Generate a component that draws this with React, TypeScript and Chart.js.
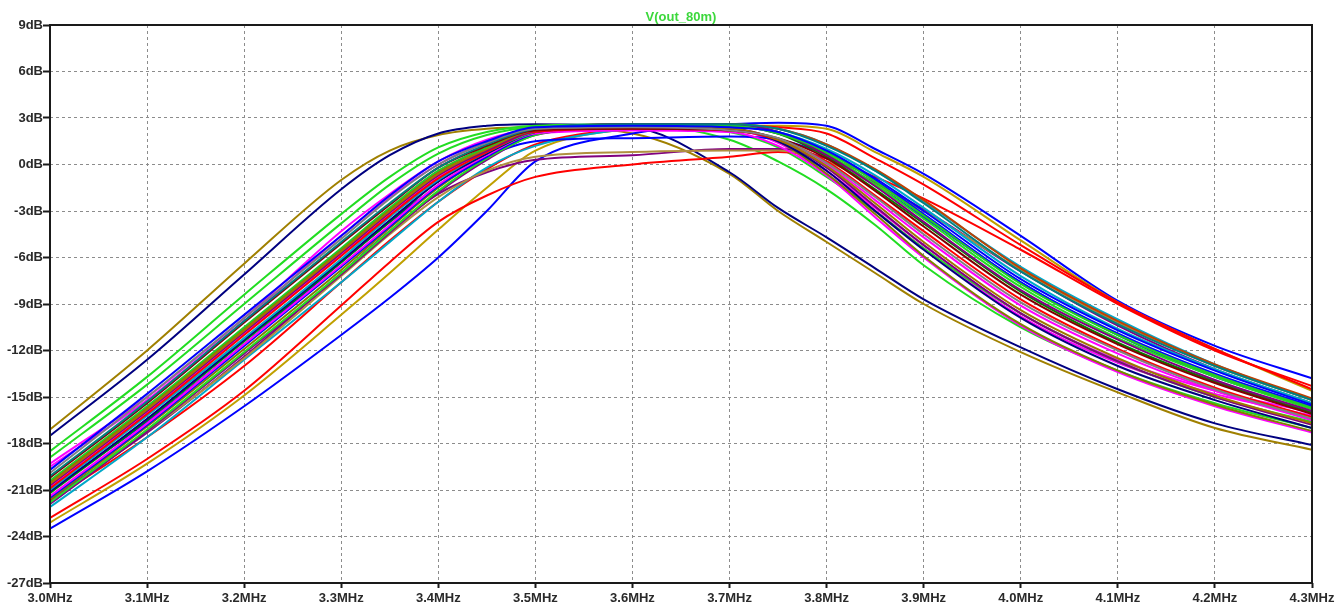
import React, { useEffect, useRef } from 'react';
import { Chart, registerables } from 'chart.js';

Chart.register(...registerables);

const TITLE = 'V(out_80m)';

const FREQ_MHZ = [3.0, 3.1, 3.2, 3.3, 3.35, 3.4, 3.45, 3.5, 3.6, 3.7, 3.75, 3.8, 3.85, 3.9, 4.0, 4.1, 4.2, 4.3];

const X_TICK_VALUES = [3.0, 3.1, 3.2, 3.3, 3.4, 3.5, 3.6, 3.7, 3.8, 3.9, 4.0, 4.1, 4.2, 4.3];
const X_TICK_LABELS = ['3.0MHz', '3.1MHz', '3.2MHz', '3.3MHz', '3.4MHz', '3.5MHz', '3.6MHz', '3.7MHz', '3.8MHz', '3.9MHz', '4.0MHz', '4.1MHz', '4.2MHz', '4.3MHz'];
const Y_TICK_VALUES = [-27, -24, -21, -18, -15, -12, -9, -6, -3, 0, 3, 6, 9];
const Y_TICK_LABELS = ['-27dB', '-24dB', '-21dB', '-18dB', '-15dB', '-12dB', '-9dB', '-6dB', '-3dB', '0dB', '3dB', '6dB', '9dB'];

// Monte Carlo runs, dB values at FREQ_MHZ
const B01 = [-19.7, -14.8, -9.7, -4.6, -2.0, 0.2, 1.5, 2.4, 2.5, 2.4, 2.1, 0.9, -0.9, -3.0, -7.4, -10.7, -13.3, -15.5];
const B02 = [-19.9, -15.0, -9.9, -4.8, -2.2, 0.0, 1.4, 2.3, 2.4, 2.2, 1.7, 0.1, -2.1, -4.5, -8.9, -12.0, -14.5, -16.4];
const B03 = [-20.1, -15.3, -10.1, -5.0, -2.5, -0.2, 1.3, 2.3, 2.6, 2.6, 2.3, 1.2, -0.4, -2.5, -6.9, -10.3, -13.0, -15.2];
const B04 = [-20.2, -15.4, -10.2, -5.1, -2.6, -0.2, 1.2, 2.2, 2.3, 2.2, 1.7, 0.4, -1.7, -4.0, -8.4, -11.6, -14.1, -16.1];
const B05 = [-20.4, -15.6, -10.5, -5.4, -2.8, -0.4, 1.1, 2.3, 2.5, 2.5, 2.0, 0.8, -1.1, -3.3, -7.7, -11.0, -13.6, -15.7];
const B06 = [-20.6, -15.8, -10.7, -5.6, -3.0, -0.6, 1.0, 2.2, 2.4, 2.3, 1.6, -0.1, -2.5, -5.0, -9.4, -12.5, -14.9, -16.7];
const B07 = [-20.7, -15.9, -10.8, -5.7, -3.1, -0.7, 0.9, 2.2, 2.6, 2.6, 2.1, 0.6, -1.4, -3.7, -8.1, -11.3, -13.9, -15.9];
const B08 = [-20.9, -16.1, -11.0, -5.9, -3.3, -0.9, 0.8, 2.1, 2.3, 2.2, 1.6, 0.2, -2.0, -4.3, -8.7, -11.9, -14.4, -16.3];
const B09 = [-21.0, -16.2, -11.2, -6.1, -3.4, -1.0, 0.8, 2.1, 2.5, 2.5, 2.1, 1.0, -0.7, -2.8, -7.2, -10.6, -13.2, -15.4];
const B10 = [-21.1, -16.4, -11.3, -6.2, -3.6, -1.1, 0.7, 2.1, 2.4, 2.3, 1.5, -0.4, -3.0, -5.5, -9.9, -13.0, -15.2, -17.0];
const B11 = [-21.2, -16.5, -11.4, -6.3, -3.7, -1.1, 0.7, 2.1, 2.6, 2.6, 2.0, 0.5, -1.6, -3.8, -8.2, -11.5, -14.0, -16.0];
const B12 = [-21.4, -16.7, -11.6, -6.5, -3.9, -1.3, 0.6, 2.0, 2.3, 2.2, 1.6, 0.0, -2.3, -4.7, -9.1, -12.2, -14.6, -16.5];
const B13 = [-21.5, -16.8, -11.7, -6.6, -4.0, -1.4, 0.5, 2.0, 2.5, 2.5, 2.0, 0.9, -1.0, -3.2, -7.6, -10.9, -13.5, -15.6];
const B14 = [-21.6, -16.9, -11.9, -6.8, -4.1, -1.5, 0.5, 2.0, 2.4, 2.3, 1.5, -0.6, -3.2, -5.9, -10.3, -13.3, -15.5, -17.2];
const B15 = [-21.8, -17.1, -12.1, -7.0, -4.3, -1.7, 0.4, 1.9, 2.5, 2.6, 2.1, 0.7, -1.3, -3.5, -7.9, -11.2, -13.7, -15.8];
const B16 = [-21.9, -17.2, -12.2, -7.1, -4.4, -1.8, 0.3, 1.9, 2.4, 2.3, 1.6, -0.2, -2.7, -5.2, -9.6, -12.7, -15.0, -16.8];
const B17 = [-20.5, -15.7, -10.6, -5.5, -2.9, -0.5, 1.1, 2.2, 2.6, 2.6, 2.3, 1.3, -0.3, -2.3, -6.7, -10.1, -12.9, -15.1];
const B18 = [-20.8, -16.0, -10.9, -5.8, -3.2, -0.8, 0.9, 2.0, 2.2, 2.1, 1.2, -0.7, -3.4, -6.0, -10.4, -13.4, -15.6, -17.3];
const TAN_LOW = [-21.4, -17.2, -12.5, -7.2, -4.5, -2.1, -0.4, 0.5, 0.8, 0.9, 0.9, 0.2, -1.3, -3.0, -6.8, -10.2, -13.0, -15.2];
const PURPLE_LOW = [-21.6, -17.3, -12.4, -7.0, -4.3, -1.9, -0.5, 0.3, 0.6, 1.0, 1.0, 0.4, -1.2, -2.9, -6.9, -10.4, -13.2, -15.4];
const BLUE_MID = [-21.0, -16.6, -11.6, -6.3, -3.7, -1.4, 0.5, 1.5, 1.7, 1.8, 1.6, 0.6, -1.3, -3.4, -7.6, -11.0, -13.7, -15.7];
const CYAN_R = [-22.1, -17.6, -12.6, -7.6, -5.0, -2.4, -0.2, 1.2, 2.3, 2.5, 2.3, 1.3, -0.4, -2.4, -6.6, -10.0, -12.9, -15.2];
const RED_B = [-21.7, -17.6, -13.0, -7.6, -4.9, -2.4, -0.3, 1.3, 2.3, 2.5, 2.4, 2.0, 0.4, -1.3, -5.2, -8.9, -11.9, -14.5];
const RED_LOW = [-22.8, -19.0, -14.6, -9.1, -6.3, -3.7, -2.0, -0.8, 0.0, 0.5, 0.8, 0.4, -0.8, -2.2, -5.5, -9.0, -12.0, -14.3];
const OLIVE_R = [-23.1, -19.3, -14.9, -9.7, -7.0, -4.2, -1.5, 0.9, 2.3, 2.5, 2.5, 2.3, 0.8, -0.8, -4.9, -8.9, -11.9, -14.6];
const BLUE_R = [-23.5, -19.8, -15.6, -11.0, -8.6, -6.0, -3.0, 0.2, 2.0, 2.6, 2.7, 2.5, 1.0, -0.6, -4.6, -8.8, -11.7, -13.8];
const GREEN_A = [-18.5, -13.7, -8.4, -3.2, -0.8, 1.1, 2.1, 2.5, 2.6, 1.6, 0.2, -1.6, -3.9, -6.5, -10.5, -13.3, -15.4, -17.0];
const GREEN_B = [-18.9, -14.2, -9.0, -3.8, -1.3, 0.7, 1.9, 2.4, 2.5, 2.1, 1.1, -0.8, -3.0, -5.4, -9.6, -12.7, -15.0, -16.6];
const NAVY_L = [-17.5, -12.6, -7.1, -1.6, 0.6, 2.0, 2.5, 2.6, 2.4, -0.5, -2.8, -4.7, -6.7, -8.7, -11.8, -14.5, -16.7, -18.1];
const BROWN_L = [-17.1, -12.0, -6.4, -1.0, 0.9, 1.9, 2.3, 2.4, 2.0, -0.6, -3.0, -5.0, -7.0, -9.0, -12.1, -14.7, -17.0, -18.4];
const MAGENTA_A = [-19.3, -15.0, -9.9, -4.3, -1.9, 0.2, 1.6, 2.3, 2.5, 2.3, 1.4, -0.6, -3.0, -5.4, -9.8, -12.8, -14.8, -16.2];
const MAGENTA_B = [-19.5, -15.2, -10.1, -4.6, -2.1, 0.0, 1.4, 2.2, 2.4, 2.3, 1.5, -0.4, -2.8, -5.2, -9.6, -12.6, -14.6, -16.0];

const RUNS = [B01, B02, B03, B04, B05, B06, B07, B08, B09, B10, B11, B12, B13, B14, B15, B16, B17, B18,
  TAN_LOW, PURPLE_LOW, BLUE_MID, CYAN_R, RED_B, RED_LOW, OLIVE_R, BLUE_R, GREEN_A, GREEN_B, NAVY_L, BROWN_L, MAGENTA_A, MAGENTA_B];

const RUN_COLORS = ['#0000ff', '#808080', '#008080', '#800000', '#22cc22', '#a07800', '#800080', '#ff0000', '#00a8c8', '#000080',
  '#008000', '#ff00ff', '#0000ff', '#808000', '#22dd22', '#800080', '#c04000', '#ff00ff',
  '#b09040', '#800080', '#0000ff', '#00a8c8', '#ff0000', '#ff0000', '#c0a000', '#0000ff', '#22dd22', '#22dd22', '#000080', '#a08000', '#ff00ff', '#ff00ff'];

export default function App() {
  const ref = useRef<HTMLCanvasElement>(null);

  useEffect(() => {
    document.body.style.margin = '0';
    const canvas = ref.current;
    if (!canvas) return;

    const framePlugin = {
      id: 'ltFrame',
      afterDatasetsDraw(chart: any) {
        const { ctx, chartArea: a } = chart;
        ctx.save();
        ctx.strokeStyle = '#1a1a1a';
        ctx.lineWidth = 2;
        ctx.setLineDash([]);
        ctx.strokeRect(a.left, a.top, a.right - a.left, a.bottom - a.top);
        ctx.fillStyle = '#3cd83c';
        ctx.font = 'bold 13px "Liberation Sans", Arial, sans-serif';
        ctx.textAlign = 'center';
        ctx.textBaseline = 'alphabetic';
        ctx.fillText(TITLE, (a.left + a.right) / 2, a.top - 4);
        ctx.restore();
      },
    };

    const tickFont = { family: '"Liberation Sans", Arial, sans-serif', size: 13, weight: 'bold' as const };

    const chart = new Chart(canvas, {
      type: 'line',
      data: {
        datasets: RUNS.map((vals, r) => ({
          label: 'run' + (r + 1),
          data: FREQ_MHZ.map((f, i) => ({ x: f, y: vals[i] })),
          borderColor: RUN_COLORS[r],
          borderWidth: 2,
          pointRadius: 0,
          fill: false,
          cubicInterpolationMode: 'monotone' as const,
        })),
      },
      options: {
        responsive: false,
        animation: false,
        devicePixelRatio: 1,
        layout: { padding: { top: 25, right: 31, left: 0, bottom: 0 } },
        plugins: { legend: { display: false }, tooltip: { enabled: false }, title: { display: false } },
        scales: {
          x: {
            type: 'linear',
            min: 3.0,
            max: 4.3,
            afterBuildTicks: (scale: any) => { scale.ticks = X_TICK_VALUES.map((v) => ({ value: v })); },
            afterFit: (scale: any) => { scale.height = 25; },
            ticks: {
              autoSkip: false,
              maxRotation: 0,
              padding: 3,
              color: '#2a2a2a',
              font: tickFont,
              callback: (_v: any, i: number) => X_TICK_LABELS[i],
            },
            grid: {
              color: '#8c8c8c',
              lineWidth: 1,
              tickLength: 5,
              tickColor: '#1a1a1a',
              tickWidth: 2,
              tickBorderDash: [],
            },
            border: { display: false, dash: [3, 3] },
          },
          y: {
            type: 'linear',
            min: -27,
            max: 9,
            afterBuildTicks: (scale: any) => { scale.ticks = Y_TICK_VALUES.map((v) => ({ value: v })); },
            afterFit: (scale: any) => { scale.width = 50; },
            ticks: {
              padding: 0,
              color: '#2a2a2a',
              font: tickFont,
              callback: (_v: any, i: number) => Y_TICK_LABELS[i],
            },
            grid: {
              color: '#8c8c8c',
              lineWidth: 1,
              tickLength: 7,
              tickColor: '#1a1a1a',
              tickWidth: 2,
              tickBorderDash: [],
            },
            border: { display: false, dash: [3, 3] },
          },
        },
      },
      plugins: [framePlugin],
    });

    return () => chart.destroy();
  }, []);

  return (
    <div style={{ width: 1343, height: 608, background: '#ffffff' }}>
      <canvas ref={ref} width={1343} height={608} style={{ display: 'block' }} />
    </div>
  );
}
